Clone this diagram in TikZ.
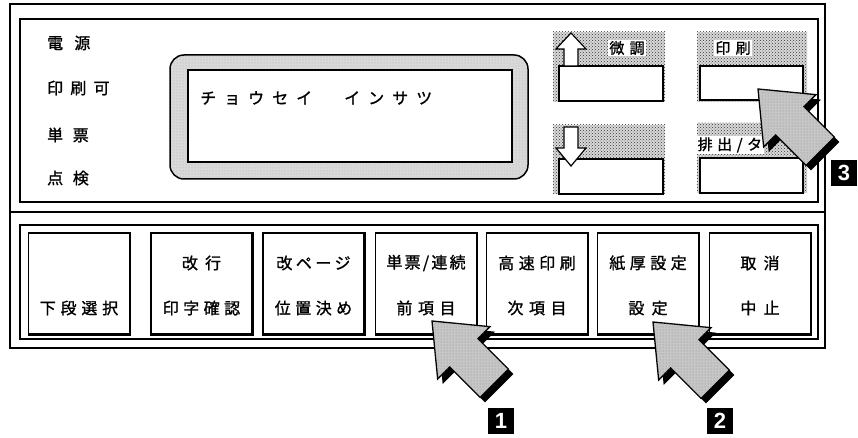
\documentclass[tikz,border=0pt]{standalone}
\usepackage{fontspec}
\setmainfont{Noto Sans CJK JP}[FakeBold=1.2]
\newfontfamily\numfont{Liberation Sans}
\usetikzlibrary{patterns}
\newcommand{\jsp}[2]{\addfontfeatures{LetterSpace=#1}#2}
\newcommand{\handarrow}[2]{%
  \begin{scope}[shift={(#1+5,#2+5)},rotate=-45]
    \fill[black] (0,0) -- (45,37) -- (45,20) -- (88,20) -- (88,-20) -- (45,-20) -- (45,-37) -- cycle;
  \end{scope}
  \begin{scope}[shift={(#1,#2)},rotate=-45]
    \draw[handstyle] (0,0) -- (45,37) -- (45,20) -- (88,20) -- (88,-20) -- (45,-20) -- (45,-37) -- cycle;
    \fill[pattern=dots,pattern color=black!45] (0,0) -- (45,37) -- (45,20) -- (88,20) -- (88,-20) -- (45,-20) -- (45,-37) -- cycle;
  \end{scope}}
\begin{document}
\begin{tikzpicture}[x=1pt,y=-1pt,
  frame/.style={draw=black,line width=1.7pt},
  panel/.style={draw=black,line width=1.2pt},
  keybox/.style={draw=black,line width=1.2pt,fill=white,minimum width=101pt,minimum height=101pt,inner sep=0pt},
  smallkey/.style={draw=black,line width=1.6pt,fill=white,inner sep=0pt},
  jp/.style={font=\fontsize{16}{18}\selectfont,inner sep=0pt},
  jplab/.style={font=\fontsize{15}{17}\selectfont,inner sep=1.5pt,fill=white},
  hollow/.style={draw=black,line width=1.2pt,fill=white},
  handstyle/.style={draw=black,line width=1.3pt,fill=gray!45},
  numbox/.style={fill=black,text=white,minimum size=26pt,inner sep=0pt,font=\numfont\bfseries\fontsize{22}{22}\selectfont}]
\useasboundingbox[fill=white] (0,0) rectangle (858,438);

% outer frame
\draw[frame] (10,4) rectangle (825,348);
\draw[frame] (10,212) -- (825,212);
\draw[panel] (20,19) rectangle (818,202);
\draw[panel] (20,225) rectangle (818,339);

% left labels
\node[jp,anchor=west] (l1) at (47,43) {\jsp{70}{電源}};
\node[jp,anchor=west] (l2) at (47,88) {\jsp{45}{印刷可}};
\node[jp,anchor=west] (l3) at (47,135) {\jsp{60}{単票}};
\node[jp,anchor=west] (l4) at (47,178) {\jsp{60}{点検}};

% LCD
\draw[line width=1.5pt,fill=gray!30,rounded corners=14pt] (170,55) rectangle (528,179);
\fill[pattern=dots,pattern color=black!30,rounded corners=14pt] (171,56) rectangle (527,178);
\draw[line width=2pt,fill=white] (188,70) rectangle (512,162);
\node[jp,anchor=west] (lcd) at (200,98) {\jsp{50}{チョウセイ　インサツ}};

% top-right keys
\foreach \a/\b/\c/\d in {553/32/665/102, 553/125/665/194, 697/32/807/102, 697/123/807/193}{
  \fill[gray!30] (\a,\b) rectangle (\c,\d);
  \fill[pattern=crosshatch dots,pattern color=black!80] (\a,\b) rectangle (\c,\d);
}
\draw[smallkey] (559,66) rectangle (663,101);
\draw[smallkey] (559,159) rectangle (663,194);
\draw[smallkey] (700,66) rectangle (803,100);
\draw[smallkey] (700,158) rectangle (803,193);
\draw[hollow] (571,33) -- (586,49) -- (578,49) -- (578,66) -- (564,66) -- (564,49) -- (556,49) -- cycle;
\draw[hollow] (564,127) -- (578,127) -- (578,148) -- (586,148) -- (571,166) -- (556,148) -- (564,148) -- cycle;
\node[jplab] (bichou) at (627,48) {\jsp{35}{微調}};
\node[jplab] (insatsu) at (733,48) {\jsp{35}{印刷}};
\node[jplab,anchor=west] (haishutsu) at (696,145) {\jsp{30}{排出/タ}};

% lower keys
\foreach \n/\cx in {1/79,2/201.5,3/313.5,4/426,5/537,6/648,7/760}{
  \node[keybox] (k\n) at (\cx,283.5) {};
  \draw[line width=2.6pt] (k\n.north east) -- (k\n.south east) -- (k\n.south west);
}
\node[jp] (k1b) at (k1.center |- 0,308) {\jsp{30}{下段選択}};
\node[jp] (k2a) at (k2.center |- 0,263) {\jsp{45}{改行}};
\node[jp] (k2b) at (k2.center |- 0,308) {\jsp{28}{印字確認}};
\node[jp] (k3a) at (k3.center |- 0,263) {\jsp{22}{改ページ}};
\node[jp] (k3b) at (k3.center |- 0,308) {\jsp{28}{位置決め}};
\node[jp] (k4a) at (k4.center |- 0,263) {\jsp{14}{単票/連続}};
\node[jp] (k4b) at (k4.center |- 0,308) {\jsp{35}{前項目}};
\node[jp] (k5a) at (k5.center |- 0,263) {\jsp{28}{高速印刷}};
\node[jp] (k5b) at (k5.center |- 0,308) {\jsp{35}{次項目}};
\node[jp] (k6a) at (k6.center |- 0,263) {\jsp{28}{紙厚設定}};
\node[jp] (k6b) at (k6.center |- 0,308) {\jsp{45}{設定}};
\node[jp] (k7a) at (k7.center |- 0,263) {\jsp{45}{取消}};
\node[jp] (k7b) at (k7.center |- 0,308) {\jsp{45}{中止}};

% pointing arrows
\handarrow{432}{321}
\handarrow{653}{322}
\handarrow{758}{89}

\node[numbox] (n1) at (501,421) {1};
\node[numbox] (n2) at (720,421) {2};
\node[numbox] (n3) at (844,173) {3};
\end{tikzpicture}
\end{document}
